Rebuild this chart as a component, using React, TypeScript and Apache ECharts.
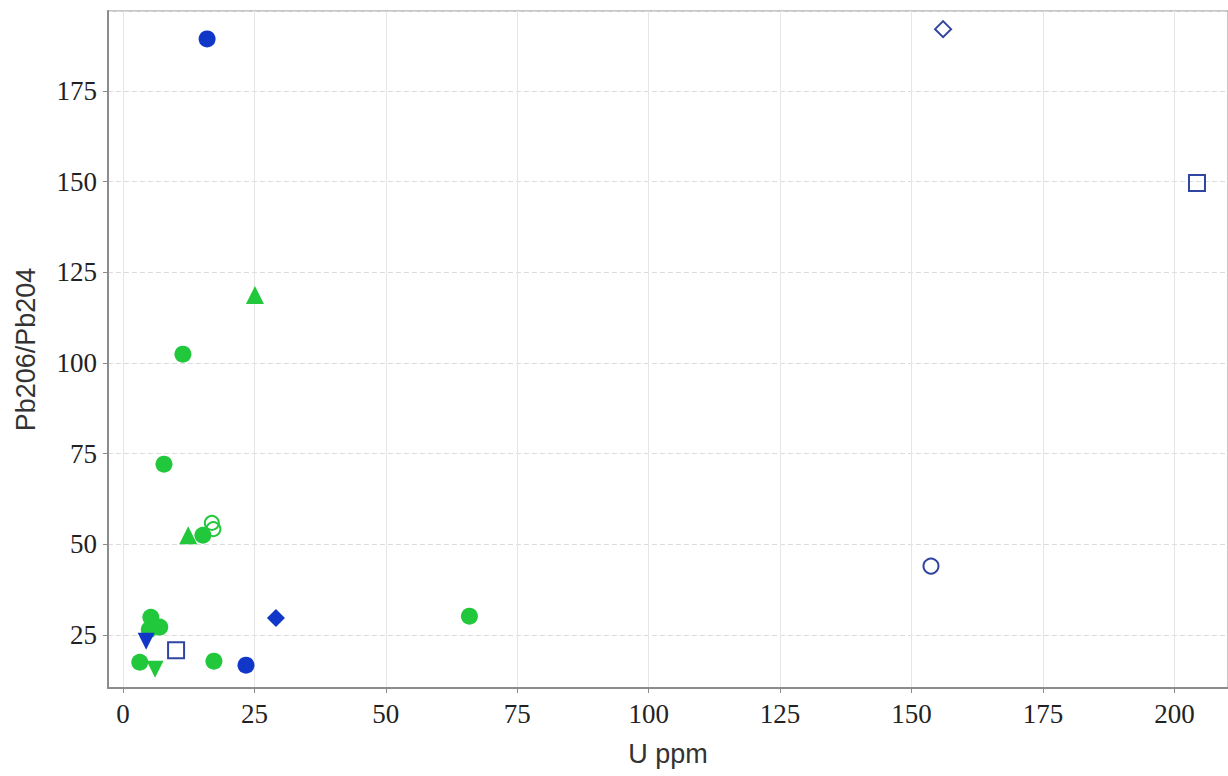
import React, { useEffect, useRef } from "react";
import * as echarts from "echarts";

// [U ppm, Pb206/Pb204]
const greenCircle: number[][] = [
  [11.4, 102.4], [7.8, 72.1], [15.2, 52.5], [65.9, 30.2],
  [5.3, 29.9], [7.0, 27.2], [5.0, 26.5], [3.2, 17.5], [17.3, 17.8],
];
const greenTriangleUp: number[][] = [[25.1, 118.7], [12.4, 52.5]];
const greenTriangleDown: number[][] = [[6.1, 15.6]];
const greenOpenCircle: number[][] = [[16.9, 55.9], [17.2, 54.2]];
const blueCircle: number[][] = [[16.0, 189.3], [23.4, 16.7]];
const blueDiamond: number[][] = [[29.1, 29.7]];
const blueTriangleDown: number[][] = [[4.4, 23.3]];
const blueOpenCircle: number[][] = [[153.7, 44.0]];
const blueOpenDiamond: number[][] = [[156.0, 192.0]];
const blueOpenSquare: number[][] = [[204.3, 149.6], [10.1, 20.8]];

const xName = "U ppm";
const yName = "Pb206/Pb204";

const GREEN = "#22c83c";
const BLUE = "#1037c8";
const NAVY = "#3045a0";

export default function App() {
  const ref = useRef<HTMLDivElement>(null);
  useEffect(() => {
    if (!ref.current) return;
    const chart = echarts.init(ref.current, undefined, { renderer: "svg" });
    const filled = (c: string) => ({ color: c, borderWidth: 0, opacity: 1 });
    const open = (c: string) => ({ color: "rgba(0,0,0,0)", borderColor: c, borderWidth: 2, opacity: 1 });
    const sc = (data: number[][], symbol: string, size: any, itemStyle: any, rotate = 0) => ({
      type: "scatter",
      data,
      symbol,
      symbolSize: size,
      symbolRotate: rotate,
      itemStyle,
      emphasis: { disabled: true },
    });
    const tickFont = { fontFamily: "Liberation Serif", fontSize: 27, color: "#222" };
    chart.setOption({
      animation: false,
      backgroundColor: "#fff",
      grid: { left: 108, right: -2, top: 11, bottom: 88, show: true, borderColor: "#b4b4b4", borderWidth: 1.5 },
      xAxis: {
        type: "value",
        min: -2.85,
        max: 210.2,
        minInterval: 25,
        maxInterval: 25,
        name: xName,
        nameLocation: "middle",
        nameGap: 52,
        nameTextStyle: { fontFamily: "Liberation Sans", fontSize: 27, color: "#333" },
        axisLine: { show: true, onZero: false, lineStyle: { color: "#8c8c8c", width: 2 } },
        axisTick: { show: true, length: 5, lineStyle: { color: "#8c8c8c" } },
        axisLabel: { ...tickFont, margin: 12, showMinLabel: false, showMaxLabel: false },
        splitLine: { show: true, lineStyle: { color: "#e6e6e6", width: 1, type: "solid" } },
      },
      yAxis: {
        type: "value",
        min: 10.4,
        max: 197,
        minInterval: 25,
        maxInterval: 25,
        name: yName,
        nameLocation: "middle",
        nameGap: 69,
        nameTextStyle: { fontFamily: "Liberation Sans", fontSize: 27, color: "#333" },
        axisLine: { show: true, onZero: false, lineStyle: { color: "#8c8c8c", width: 2 } },
        axisTick: { show: true, length: 5, lineStyle: { color: "#8c8c8c" } },
        axisLabel: { ...tickFont, margin: 11, showMinLabel: false, showMaxLabel: false },
        splitLine: { show: true, lineStyle: { color: "#dcdcdc", width: 1, type: [5, 3] } },
      },
      series: [
        sc(blueOpenSquare, "rect", 16, open(NAVY)),
        sc(blueOpenCircle, "circle", 15, open(NAVY)),
        sc(blueOpenDiamond, "diamond", 16, open(NAVY)),
        sc(greenCircle, "circle", 17, filled(GREEN)),
        sc(greenTriangleUp, "triangle", 18, filled(GREEN)),
        sc(greenTriangleDown, "triangle", 17, filled(GREEN), 180),
        sc(greenOpenCircle, "circle", 14, open(GREEN)),
        sc(blueCircle, "circle", 17, filled(BLUE)),
        sc(blueDiamond, "diamond", 18, filled(BLUE)),
        sc(blueTriangleDown, "triangle", 17, filled(BLUE), 180),
      ],
    });
    return () => chart.dispose();
  }, []);
  return (
    <div
      ref={ref}
      style={{ position: "fixed", left: 0, top: 0, width: 1228, height: 776, background: "#fff" }}
    />
  );
}
